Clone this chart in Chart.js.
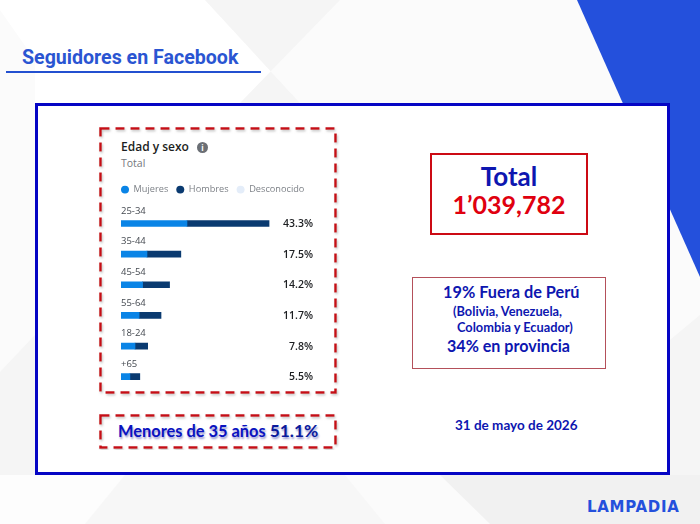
<!DOCTYPE html>
<html>
<head>
<meta charset="utf-8">
<script src="https://cdn.jsdelivr.net/npm/chart.js@4"></script>
<style>
html, body { margin: 0; padding: 0; }
body { width: 700px; height: 524px; position: relative; overflow: hidden; background: #fff; font-family: Lato, sans-serif; }
#bg { position: absolute; left: 0; top: 0; }
.txt { position: absolute; white-space: nowrap; line-height: 1; font-weight: 700; color: #0d16b0; }
.box { position: absolute; box-sizing: border-box; background: #fff; }
#frame { left: 35px; top: 103px; width: 635px; height: 372px; border: 3px solid #0505c4; }
#totalBox { left: 430px; top: 153px; width: 158px; height: 82px; border: 2px solid #cc0a14; }
#geoBox { left: 412px; top: 277px; width: 194px; height: 92px; border: 1px solid #b4505a; }
#dash { position: absolute; left: 0; top: 0; }
#chartWrap { position: absolute; left: 110px; top: 177px; width: 225px; height: 215px; }
#info { position: absolute; left: 197px; top: 142px; width: 11px; height: 11px; border-radius: 50%; background: #6b6f75; color: #fff; font: 700 8px/11px "Open Sans"; text-align: center; }
</style>
</head>
<body>
<svg id="bg" width="700" height="524">
  <polygon points="205,0 577,0 640,140 700,277 700,524 0,524 0,0" fill="#fbfbfb"/>
  <polygon points="0,0 205,0 300,103 35,103 35,60 0,10" fill="#ffffff"/>
  <polygon points="205,0 340,0 240,103 300,103" fill="#f5f5f5"/>
  <polygon points="0,372 35,335 35,475 0,475" fill="#f5f5f5"/>
  <polygon points="0,475 125,475 85,524 0,524" fill="#fdfdfd"/>
  <polygon points="125,475 345,475 385,524 85,524" fill="#f7f7f7"/>
  <polygon points="440,475 700,475 700,524 490,524" fill="#f1f1f1"/>
  <polygon points="670,340 700,315 700,475 670,475" fill="#f5f5f5"/>
  <polygon points="577,0 700,0 700,277" fill="#2450dc"/>
</svg>

<div class="txt" style="left:22px;top:46px;font:700 19.6px Roboto;color:#2a55d2;">Seguidores en Facebook</div>
<div style="position:absolute;left:6px;top:71px;width:255px;height:2px;background:#2350d0;"></div>

<div class="box" id="frame"></div>

<svg id="dash" width="700" height="524">
  <defs><filter id="sh" x="-5%" y="-5%" width="110%" height="110%"><feDropShadow dx="1" dy="1.5" stdDeviation="1.2" flood-color="#999" flood-opacity="0.6"/></filter></defs>
  <rect x="100.5" y="128.5" width="235" height="264" fill="none" stroke="#c60812" stroke-width="2.5" stroke-dasharray="9 6" filter="url(#sh)"/>
  <rect x="100.5" y="415.5" width="235" height="32" fill="none" stroke="#c60812" stroke-width="2.5" stroke-dasharray="9 6" filter="url(#sh)"/>
</svg>

<div class="txt" style="left:121px;top:138px;font:600 12px 'Open Sans';color:#1c1e21;">Edad y sexo</div>
<div id="info">i</div>
<div class="txt" style="left:121px;top:156px;font:400 10.5px 'Open Sans';color:#75787d;">Total</div>

<div id="chartWrap"><canvas id="ageChart"></canvas></div>

<div class="txt" style="left:118px;top:422px;font-size:16.4px;color:#0a12c0;text-shadow:1px 1.5px 2px #9a9ad0;">Menores de 35 años <span style="font-size:17.4px;color:#0a1a9c;">51.1%</span></div>

<div class="box" id="totalBox"></div>
<div class="txt" style="left:430px;width:158px;text-align:center;top:163px;font-size:26px;">Total</div>
<div class="txt" style="left:430px;width:158px;text-align:center;top:192px;font-size:25px;color:#e0000f;">1’039,782</div>

<div class="box" id="geoBox"></div>
<div class="txt" style="left:443px;top:284px;font-size:16.3px;">19% Fuera de Perú</div>
<div class="txt" style="left:453px;top:305px;font-size:12.8px;">(Bolivia, Venezuela,</div>
<div class="txt" style="left:457px;top:321px;font-size:12.8px;">Colombia y Ecuador)</div>
<div class="txt" style="left:447px;top:338px;font-size:16.1px;">34% en provincia</div>

<div class="txt" style="left:455px;top:419px;font-size:13.5px;">31 de mayo de 2026</div>

<div class="txt" style="left:587px;top:498px;font:700 15px 'DejaVu Sans';letter-spacing:0.7px;color:#2450dc;">LAMPADIA</div>

<script>
const ageGroups = ["25-34", "35-44", "45-54", "55-64", "18-24", "+65"];
const mujeres = [19.3, 7.6, 6.3, 5.3, 4.1, 2.6];
const hombres = [24.0, 9.9, 7.9, 6.4, 3.7, 2.9];
const desconocido = [0, 0, 0, 0, 0, 0];
const totalLabels = ["43.3%", "17.5%", "14.2%", "11.7%", "7.8%", "5.5%"];

// age label above each bar, total at the right
const rowLabels = {
    id: "rowLabels",
    afterDatasetsDraw(chart) {
        const { ctx, scales } = chart;
        ctx.save();
        ageGroups.forEach((group, i) => {
            const y = scales.y.getPixelForValue(i);
            ctx.textBaseline = "middle";
            ctx.textAlign = "left";
            ctx.font = '400 9.5px "Open Sans"';
            ctx.fillStyle = "#444950";
            ctx.fillText(group, scales.x.left, y - 12.5);
            ctx.textAlign = "right";
            ctx.font = '600 10.5px "Open Sans"';
            ctx.fillStyle = "#1c1e21";
            ctx.fillText(totalLabels[i], scales.x.right - 22, y + 0.5);
        });
        ctx.restore();
    }
};

// room under the legend, and pull it left so it lines up with the bars
const legendFit = {
    id: "legendFit",
    beforeInit(chart) {
        const fit = chart.legend.fit;
        chart.legend.fit = function () {
            fit.call(this);
            this.height += 4;
        };
    },
    beforeDraw(chart) {
        chart.legend.left = 3;
    }
};

new Chart(document.getElementById("ageChart"), {
    type: "bar",
    data: {
        labels: ageGroups,
        datasets: [
            { label: "Mujeres", data: mujeres, backgroundColor: "#0a84e6", barThickness: 6 },
            { label: "Hombres", data: hombres, backgroundColor: "#0a3a70", barThickness: 6 },
            { label: "Desconocido", data: desconocido, backgroundColor: "#e4edf9", barThickness: 6 }
        ]
    },
    options: {
        indexAxis: "y",
        responsive: true,
        maintainAspectRatio: false,
        animation: false,
        layout: { padding: { left: 11, right: 0, top: 0, bottom: 0 } },
        scales: {
            x: { stacked: true, display: false, min: 0, max: 62.6 },
            y: { stacked: true, display: false }
        },
        plugins: {
            tooltip: { enabled: false },
            legend: {
                position: "top",
                align: "start",
                labels: {
                    usePointStyle: true,
                    pointStyle: "circle",
                    pointStyleWidth: 8,
                    boxHeight: 5.5,
                    padding: 8,
                    color: "#7d8187",
                    font: { family: "Open Sans", size: 9.2 }
                }
            }
        }
    },
    plugins: [rowLabels, legendFit]
});
</script>
</body>
</html>
